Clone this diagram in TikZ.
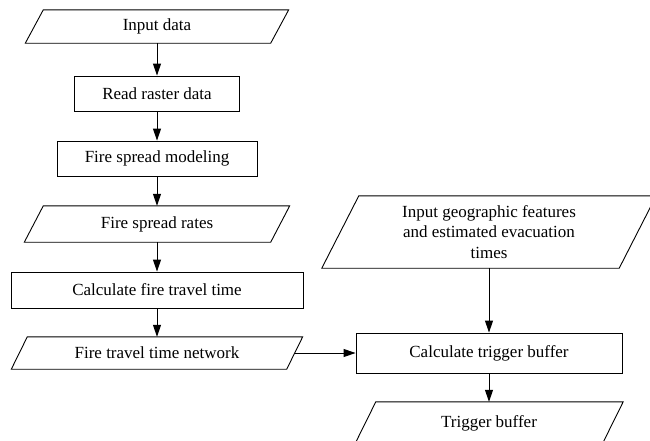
\documentclass[tikz,border=0pt]{standalone}
\usepackage{fontspec}
\setmainfont{Liberation Serif}
\usetikzlibrary{arrows.meta}

\begin{document}
\begin{tikzpicture}[x=1pt, y=-1pt,
    font=\fontsize{17}{20.5}\selectfont,
    proc/.style={draw, line width=0.9pt, rectangle, inner sep=0pt, align=center},
    % io box: invisible rectangle, parallelogram drawn round it (#1 = slant)
    io/.style={rectangle, inner sep=0pt, align=center,
        append after command={\pgfextra{\draw[line width=0.9pt]
            ([xshift=-#1/2]\tikzlastnode.south west) --
            ([xshift=#1/2]\tikzlastnode.north west) --
            ([xshift=#1/2]\tikzlastnode.north east) --
            ([xshift=-#1/2]\tikzlastnode.south east) -- cycle;}}},
    flow/.style={line width=1pt, -{Triangle[length=12pt, width=8pt]}}]

    % Fix the page to the size of the reference
    \useasboundingbox (0, 0) rectangle (650, 440);

    % Left column: fire modelling chain
    \node[io=18, minimum width=245, minimum height=33] (input) at (157, 26.5) {Input data};
    \node[proc, minimum width=165, minimum height=35] (raster) at (157, 93.5) {Read raster data};
    \node[proc, minimum width=200, minimum height=35] (spread) at (157, 158.5) {Fire spread modeling};
    \node[io=19, minimum width=246, minimum height=36] (rates) at (157, 224) {Fire spread rates};
    \node[proc, minimum width=292, minimum height=36] (travel) at (157, 290) {Calculate fire travel time};
    \node[io=16, minimum width=275, minimum height=32] (network) at (157, 353) {Fire travel time network};

    % Right column: trigger buffer
    \node[io=37, minimum width=297, minimum height=72] (geo) at (489, 232) {Input geographic features\\and estimated evacuation\\times};
    \node[proc, minimum width=266, minimum height=40] (trigger) at (489, 353) {Calculate trigger buffer};
    \node[io=21, minimum width=247, minimum height=42] (buffer) at (489, 423) {Trigger buffer};

    % Connectors
    \draw[flow] (input) -- (raster);
    \draw[flow] (raster) -- (spread);
    \draw[flow] (spread) -- (rates);
    \draw[flow] (rates) -- (travel);
    \draw[flow] (travel) -- (network);
    \draw[flow] (network.east) -- (trigger.west);
    \draw[flow] (geo.south) -- (trigger.north);
    \draw[flow] (trigger) -- (buffer);

\end{tikzpicture}
\end{document}
